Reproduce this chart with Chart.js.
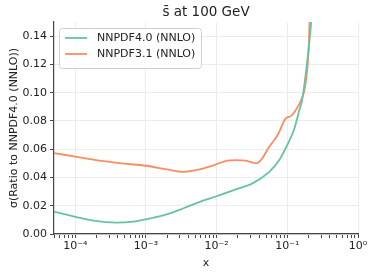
<!DOCTYPE html>
<html>
<head>
<meta charset="utf-8">
<script src="https://cdn.jsdelivr.net/npm/chart.js@4"></script>
<style>
  html, body { margin: 0; padding: 0; background: #fff; }
  #wrap { width: 374px; height: 275px; }
</style>
</head>
<body>
<div id="wrap"><canvas id="chart"></canvas></div>
<script>
// values
const xNNPDF40 = [5e-5, 1e-4, 1.8e-4, 3.8e-4, 6.6e-4, 1e-3, 2e-3, 3.4e-3, 5.9e-3, 1.02e-2, 1.86e-2, 3.22e-2, 5.55e-2, 7.7e-2, 0.1, 0.126, 0.148, 0.162, 0.185, 0.217, 0.225];
const yNNPDF40 = [0.0158, 0.0122, 0.0094, 0.0080, 0.0087, 0.0104, 0.0141, 0.0182, 0.0229, 0.0269, 0.0316, 0.0358, 0.044, 0.0523, 0.063, 0.0747, 0.0877, 0.0948, 0.116, 0.149, 0.160];

const xNNPDF31 = [5e-5, 1e-4, 2.2e-4, 4.6e-4, 1e-3, 2e-3, 3.4e-3, 5.3e-3, 9.2e-3, 1.4e-2, 1.86e-2, 2.59e-2, 3.59e-2, 4.23e-2, 5.55e-2, 7.3e-2, 9.5e-2, 0.112, 0.132, 0.157, 0.178, 0.199, 0.206, 0.21];
const yNNPDF31 = [0.0573, 0.0547, 0.0519, 0.0500, 0.0483, 0.0457, 0.0440, 0.0453, 0.0488, 0.0519, 0.0523, 0.0519, 0.0500, 0.0523, 0.0618, 0.070, 0.0818, 0.0834, 0.0877, 0.0948, 0.104, 0.128, 0.149, 0.160];

const seriesNames = ['NNPDF4.0 (NNLO)', 'NNPDF3.1 (NNLO)'];
const seriesColors = ['#66c2a5', '#fc8d62'];
const yTicks = [0, 0.02, 0.04, 0.06, 0.08, 0.10, 0.12, 0.14];
const xMajor = [1e-4, 1e-3, 1e-2, 1e-1, 1];
const xLabels = ['10\u207B\u2074', '10\u207B\u00B3', '10\u207B\u00B2', '10\u207B\u00B9', '10\u2070'];
const chartTitle = 's\u0304 at 100 GeV';

const FONT = 'DejaVu Sans';
const TXT = '#222';

function toPoints(xs, ys) {
    return xs.map((x, i) => ({ x: x, y: ys[i] }));
}

function isMajor(v) {
    return xMajor.some(m => Math.abs(v / m - 1) < 1e-6);
}

// title centred over the plot area + legend box inside the axes
const overlay = {
    id: 'overlay',
    afterDraw(chart) {
        const ctx = chart.ctx;
        const area = chart.chartArea;
        ctx.save();
        ctx.fillStyle = TXT;
        ctx.font = '13.5px "' + FONT + '"';
        ctx.textAlign = 'center';
        ctx.textBaseline = 'middle';
        ctx.fillText(chartTitle, (area.left + area.right) / 2, 12);

        const x0 = 59, y0 = 28, w = 142, h = 40;
        ctx.fillStyle = 'rgba(255,255,255,0.8)';
        ctx.strokeStyle = '#d0d0d0';
        ctx.lineWidth = 1;
        ctx.beginPath();
        ctx.roundRect(x0 + 0.5, y0 + 0.5, w, h, 3);
        ctx.fill();
        ctx.stroke();
        ctx.font = '11px "' + FONT + '"';
        ctx.textAlign = 'left';
        seriesNames.forEach((name, i) => {
            const yy = y0 + 10 + i * 16;
            ctx.strokeStyle = seriesColors[i];
            ctx.lineWidth = 1.8;
            ctx.beginPath();
            ctx.moveTo(x0 + 6, yy);
            ctx.lineTo(x0 + 28, yy);
            ctx.stroke();
            ctx.fillStyle = TXT;
            ctx.fillText(name, x0 + 38, yy);
        });
        ctx.restore();
    }
};

new Chart(document.getElementById('chart'), {
    type: 'line',
    data: {
        datasets: [
            { label: seriesNames[0], data: toPoints(xNNPDF40, yNNPDF40), borderColor: seriesColors[0], borderWidth: 1.8, pointRadius: 0, cubicInterpolationMode: 'monotone', fill: false },
            { label: seriesNames[1], data: toPoints(xNNPDF31, yNNPDF31), borderColor: seriesColors[1], borderWidth: 1.8, pointRadius: 0, cubicInterpolationMode: 'monotone', fill: false }
        ]
    },
    options: {
        responsive: true, maintainAspectRatio: false, animation: false,
        layout: { padding: { left: 4, right: 16, top: 22, bottom: 0 } },
        plugins: {
            legend: { display: false },
            tooltip: { enabled: false },
            title: { display: false }
        },
        scales: {
            x: {
                type: 'logarithmic', min: 5e-5, max: 1,
                afterBuildTicks: axis => {
                    const t = [];
                    for (let k = -5; k <= 0; k++) {
                        for (let m = 1; m <= 9; m++) {
                            const v = m * Math.pow(10, k);
                            if (v >= 5e-5 && v <= 1.0000001) t.push({ value: v, major: m === 1 });
                        }
                    }
                    axis.ticks = t;
                },
                afterFit: s => { s.height = 41; },
                border: { display: true, color: '#444', width: 1.2 },
                grid: {
                    color: c => (c.tick && isMajor(c.tick.value)) ? '#ececec' : 'rgba(0,0,0,0)',
                    tickColor: '#444', tickLength: 4, drawOnChartArea: true
                },
                ticks: {
                    autoSkip: false, maxRotation: 0, padding: 2, color: TXT,
                    font: { family: FONT, size: 11 },
                    callback: v => { const i = xMajor.findIndex(m => Math.abs(v / m - 1) < 1e-6); return i >= 0 ? xLabels[i] : ''; }
                },
                title: { display: true, text: 'x', color: TXT, font: { family: FONT, size: 11 }, padding: { top: 0, bottom: 5 } }
            },
            y: {
                min: 0, max: 0.15,
                afterBuildTicks: axis => { axis.ticks = yTicks.map(v => ({ value: v })); },
                afterFit: s => { s.width = 50; },
                border: { display: true, color: '#444', width: 1.2 },
                grid: { color: '#ececec', tickColor: '#444', tickLength: 4 },
                ticks: { padding: 3, color: TXT, font: { family: FONT, size: 11 }, callback: v => v.toFixed(2) },
                title: { display: true, text: '\u03C3(Ratio to NNPDF4.0 (NNLO))', color: TXT, font: { family: FONT, size: 11 }, padding: { top: 4, bottom: 4 } }
            }
        }
    },
    plugins: [overlay]
});
</script>
</body>
</html>
